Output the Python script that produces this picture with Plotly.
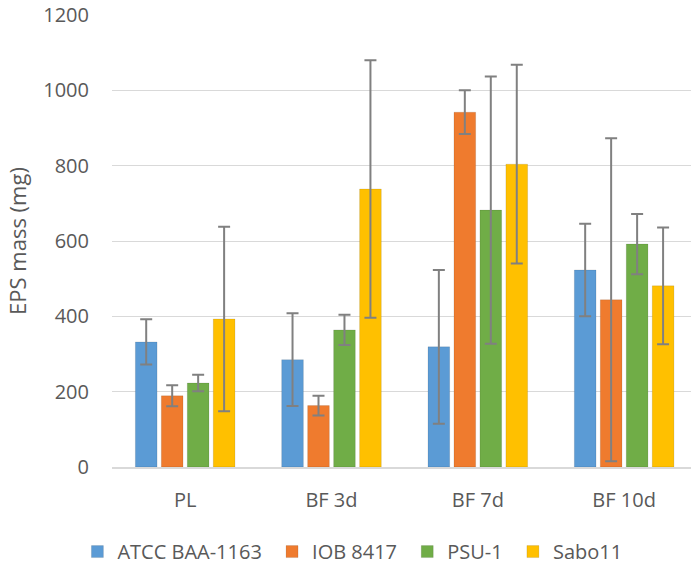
import plotly.graph_objects as go

categories = ["PL", "BF 3d", "BF 7d", "BF 10d"]
series_names = ["ATCC BAA-1163", "IOB 8417", "PSU-1", "Sabo11"]
atcc = [332, 285, 319, 523]
iob = [189, 163, 942, 444]
psu = [223, 364, 682, 592]
sabo = [393, 738, 804, 481]
atcc_err = [60, 123, 204, 123]
iob_err = [28, 26, 58, 429]
psu_err = [22, 40, 355, 80]
sabo_err = [245, 342, 264, 155]
y_ticks = [0, 200, 400, 600, 800, 1000, 1200]

colors = ["#5B9BD5", "#EF7B2E", "#70AD47", "#FFC000"]
values = [atcc, iob, psu, sabo]
errors = [atcc_err, iob_err, psu_err, sabo_err]

FONT = "Open Sans"
TXT = "#595959"
PAD = "\u00a0"

fig = go.Figure()
for i, (name, vals, errs, col) in enumerate(zip(series_names, values, errors, colors)):
    fig.add_trace(go.Bar(
        name=name + (PAD if i < len(series_names) - 1 else ""),
        x=categories,
        y=vals,
        marker=dict(color=col, line=dict(color="rgba(0,0,0,0.10)", width=1)),
        error_y=dict(type="data", array=errs, visible=True,
                     color="#808080", thickness=2, width=6),
    ))

fig.update_layout(
    width=691, height=564,
    margin=dict(l=112, r=0, t=15, b=97, autoexpand=False),
    paper_bgcolor="white", plot_bgcolor="white",
    barmode="group", bargap=0.29, bargroupgap=0.165,
    font=dict(family=FONT, size=20, color=TXT),
    showlegend=True,
    legend=dict(orientation="h", xref="container", x=0.51, xanchor="center",
                yref="container", y=0.022, yanchor="middle",
                font=dict(family=FONT, size=20, color=TXT),
                itemwidth=30, bgcolor="rgba(0,0,0,0)"),
    xaxis=dict(range=[-0.5, 3.457], showgrid=False, showline=True,
               linecolor="#D9D9D9", linewidth=1.5, ticks="",
               automargin=False, ticklabelstandoff=14,
               tickfont=dict(family=FONT, size=20, color=TXT)),
    yaxis=dict(range=[0, 1200], tickvals=y_ticks, showgrid=True,
               gridcolor="#D9D9D9", gridwidth=1.3, zeroline=False,
               showline=False, ticks="", ticklabelstandoff=22,
               automargin=False,
               tickfont=dict(family=FONT, size=20, color=TXT),
               title=dict(text="EPS mass (mg)", standoff=10,
                          font=dict(family=FONT, size=22, color=TXT))),
)

fig.write_html(
    "out.html",
    config={"displayModeBar": False},
    post_script="document.body.style.margin='0';document.body.style.padding='0';",
)
